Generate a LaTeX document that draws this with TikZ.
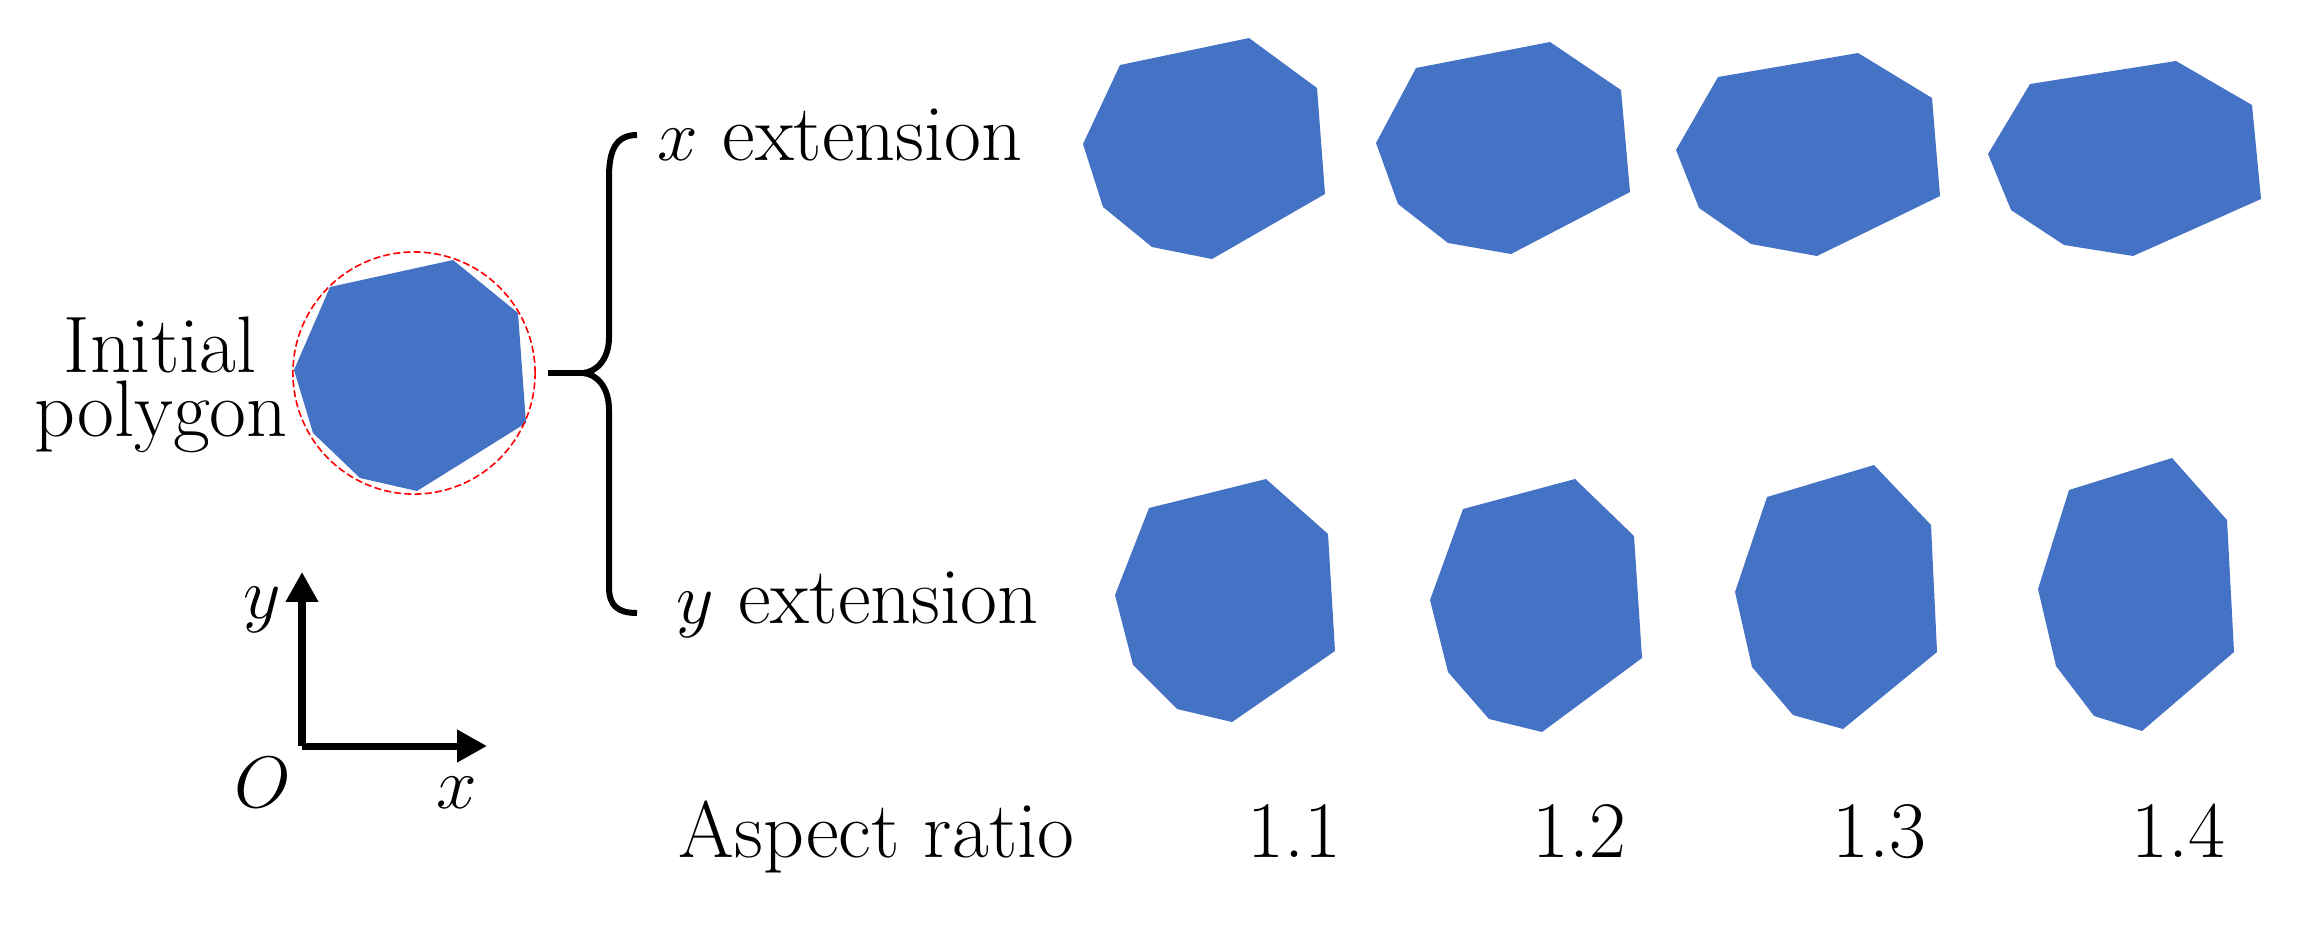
\documentclass[tikz,border=0pt]{standalone}
\usepackage{amsmath}
\usetikzlibrary{arrows.meta}
\definecolor{polyblue}{RGB}{68,114,196}

\begin{document}
\begin{tikzpicture}[x=0.01cm, y=-0.01cm,
	lbl/.style={inner sep=0pt, font=\fontsize{22.8}{24}\selectfont},
	poly/.style={fill=polyblue},
	axis/.style={line width=2pt, -{Triangle[length=8.5pt, width=8.8pt]}},
	brace/.style={line width=1.7pt}]
	
	\useasboundingbox (0,0) rectangle (2316,936);
	
	% initial polygon
	\fill[poly] (330,287) -- (453,260) -- (518,313) -- (526,423) -- (417,491) -- (360,478) -- (313,433) -- (294,370) -- cycle;
	\draw[red, line width=0.45pt, dash pattern=on 2pt off 0.9pt] (414,373) circle [radius=1.21cm];
	\node[lbl, anchor=base] (init) at (160,372) {Initial};
	\node[lbl, anchor=base] (initb) at (161,436) {polygon};
	
	% x extension
	\fill[poly] (1120,65) -- (1249,38) -- (1317,88) -- (1325,194) -- (1212,259) -- (1152,247) -- (1103,207) -- (1083,144) -- cycle;
	\fill[poly] (1416,68) -- (1550,42) -- (1621,90) -- (1630,192) -- (1511,254) -- (1448,243) -- (1398,204) -- (1376,143) -- cycle;
	\fill[poly] (1718,77) -- (1858,53) -- (1932,98) -- (1940,196) -- (1817,256) -- (1751,244) -- (1699,208) -- (1676,150) -- cycle;
	\fill[poly] (2030,84) -- (2176,61) -- (2252,105) -- (2261,199) -- (2133,256) -- (2064,245) -- (2011,210) -- (1988,154) -- cycle;
	
	% y extension
	\fill[poly] (1149,508) -- (1266,479) -- (1328,534) -- (1335,651) -- (1232,722) -- (1177,709) -- (1133,665) -- (1115,595) -- cycle;
	\fill[poly] (1463,509) -- (1575,479) -- (1634,536) -- (1642,658) -- (1542,732) -- (1489,719) -- (1448,672) -- (1430,600) -- cycle;
	\fill[poly] (1767,497) -- (1874,465) -- (1931,525) -- (1937,652) -- (1843,729) -- (1793,715) -- (1752,667) -- (1735,592) -- cycle;
	\fill[poly] (2069,490) -- (2172,458) -- (2227,520) -- (2234,652) -- (2142,731) -- (2094,716) -- (2056,666) -- (2038,589) -- cycle;
	
	% brace
	\coordinate (brtop) at (637,135);
	\coordinate (brtip) at (548,373);
	\coordinate (brbot) at (637,613);
	\draw[brace] (brtop) .. controls (616,135) and (609,150) .. (609,177) -- (609,337)
		.. controls (609,360) and (596,372) .. (583,373) -- (brtip);
	\draw[brace] (583,373) .. controls (596,374) and (609,386) .. (609,410) -- (609,587)
		.. controls (609,606) and (618,613) .. (brbot);
	
	\node[lbl, anchor=base west] (xext) at (657,160) {$x$ extension};
	\node[lbl, anchor=base west] (yext) at (676,623) {$y$ extension};
	
	% axes
	\coordinate (O) at (302,746);
	\coordinate (ytip) at (302,572);
	\coordinate (xtip) at (487,746);
	\draw[axis] (O) -- (ytip);
	\draw[axis] (O) -- (xtip);
	\node[lbl, anchor=base] (ylab) at (262,618) {$y$};
	\node[lbl, anchor=base] (olab) at (263,807) {$O$};
	\node[lbl, anchor=base] (xlab) at (457,808) {$x$};
	
	% aspect ratios
	\node[lbl, anchor=base west] (aspect) at (678,857) {Aspect ratio};
	\node[lbl, anchor=base] (r1) at (1294,857) {1.1};
	\node[lbl, anchor=base] (r2) at (1579,857) {1.2};
	\node[lbl, anchor=base] (r3) at (1879,857) {1.3};
	\node[lbl, anchor=base] (r4) at (2178,857) {1.4};
	
\end{tikzpicture}
\end{document}
